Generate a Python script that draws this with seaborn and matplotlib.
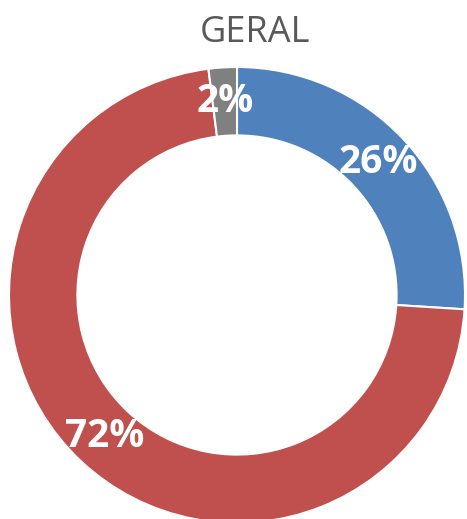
import matplotlib
matplotlib.use("Agg")
import matplotlib.pyplot as plt
import seaborn as sns

# data
categories = ["A", "B", "C"]
shares = [26, 72, 2]
slice_colors = ["#4F81BD", "#C0504D", "#808080"]
title = "GERAL"

sns.set_theme(style="white")
plt.rcParams["font.family"] = ["Open Sans", "DejaVu Sans"]

fig = plt.figure(figsize=(4.67, 5.19), dpi=100)
# outer ring spans x 9..465 px, center y ~295 px
ax = fig.add_axes([9 / 467, (519 - 523) / 519, 456 / 467, 456 / 519])

wedges, texts, autotexts = ax.pie(
    shares,
    colors=sns.color_palette(slice_colors),
    startangle=90,
    counterclock=False,
    radius=1.0,
    wedgeprops=dict(width=0.3, edgecolor="white", linewidth=1.5),
    autopct="%d%%",
    pctdistance=0.85,
    textprops=dict(color="white", fontsize=28, fontweight="bold"),
)
ax.set_xlim(-1, 1)
ax.set_ylim(-1, 1)
ax.set_aspect("equal")
ax.axis("off")

fig.text(255 / 467, 1 - 33 / 519, title, ha="center", va="center",
         fontsize=26, color="#595959")

fig.savefig("out.png", dpi=100)
